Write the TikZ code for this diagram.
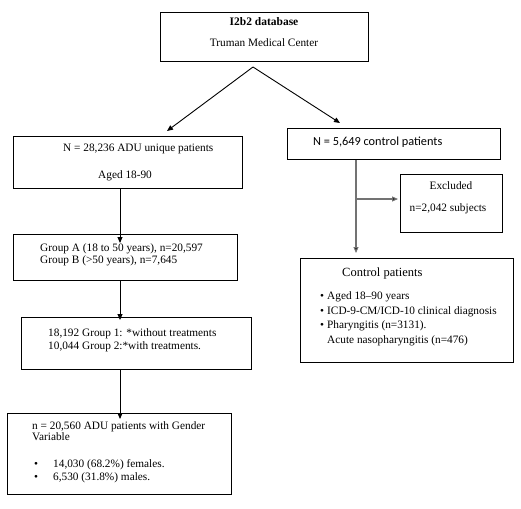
\documentclass[tikz,border=0pt]{standalone}
\usepackage{fontspec}
\setmainfont{Liberation Serif}
\newfontfamily\calib{Carlito}
\usetikzlibrary{arrows.meta}
\begin{document}
\begin{tikzpicture}[x=1pt,y=-1pt,
  box/.style={draw=black,line width=0.9pt,rectangle,inner sep=0pt,anchor=north west},
  txt/.style={anchor=base west,inner sep=0pt,font=\fontsize{11.3}{13}\selectfont},
  ctxt/.style={anchor=base,inner sep=0pt,font=\fontsize{11.3}{13}\selectfont},
  arr/.style={line width=0.9pt,-{Triangle[length=6pt,width=5pt]}},
  garr/.style={line width=1.1pt,draw=black!55,-{Triangle[length=6pt,width=5pt,fill=black]}}]
\useasboundingbox[fill=white] (0,0) rectangle (521,508);
% boxes
\node[box,minimum width=208pt,minimum height=49pt] (top) at (160,12) {};
\node[box,minimum width=229pt,minimum height=52pt] (adu) at (13,136) {};
\node[box,minimum width=213pt,minimum height=31pt] (ctrl) at (287,128) {};
\node[box,minimum width=102pt,minimum height=58pt] (excl) at (400,174) {};
\node[box,minimum width=224pt,minimum height=46pt] (grpa) at (13,234) {};
\node[box,minimum width=230pt,minimum height=52pt] (grp1) at (21,317) {};
\node[box,minimum width=224pt,minimum height=81pt] (gender) at (7,413) {};
\node[box,minimum width=213pt,minimum height=104pt] (cpat) at (300,258) {};
% texts
\node[ctxt,font=\fontsize{11.5}{13}\selectfont\bfseries] (t1) at (264,26) {I2b2 database};
\node[ctxt] (t2) at (264,47) {Truman Medical Center};
\node[txt] (t3) at (63,151) {N = 28,236 ADU unique patients};
\node[txt] (t4) at (98,178) {Aged 18-90};
\node[txt,font=\calib\fontsize{12.3}{14}\selectfont] (t5) at (313,145) {N = 5,649 control patients};
\node[ctxt] (t6) at (451,189) {Excluded};
\node[ctxt] (t7) at (448,211) {n=2,042 subjects};
\node[txt] (t8) at (40,251) {Group A (18 to 50 years), n=20,597};
\node[txt] (t9) at (40,263) {Group B (\textgreater50 years), n=7,645};
\node[txt] (t10) at (48,336) {18,192 Group 1: *without treatments};
\node[txt] (t11) at (48,349) {10,044 Group 2:*with treatments.};
\node[txt,font=\fontsize{12.5}{14}\selectfont] (t12) at (342,276) {Control patients};
\node[txt] (b1) at (320,299) {\textbullet};
\node[txt] (t13) at (327,299) {Aged 18–90 years};
\node[txt] (b2) at (320,314) {\textbullet};
\node[txt] (t14) at (327,314) {ICD-9-CM/ICD-10 clinical diagnosis};
\node[txt] (b3) at (320,328) {\textbullet};
\node[txt] (t15) at (327,328) {Pharyngitis (n=3131).};
\node[txt] (t16) at (327,343) {Acute nasopharyngitis (n=476)};
\node[txt] (t17) at (32,429) {n = 20,560 ADU patients with Gender};
\node[txt] (t18) at (32,440) {Variable};
\node[txt] (b4) at (34,467) {\textbullet};
\node[txt] (t19) at (53,467) {14,030 (68.2\%) females.};
\node[txt] (b5) at (34,480) {\textbullet};
\node[txt] (t20) at (53,480) {6,530 (31.8\%) males.};
% connectors
\coordinate (apex) at (253,67);
\coordinate (ltip) at (167,131);
\coordinate (rtip) at (340,123);
\coordinate (cv) at (356,158);
\coordinate (cbr) at (356,199);
\coordinate (cend) at (356,253);
\coordinate (etip) at (398,199);
\draw[arr] (apex) -- (ltip);
\draw[arr] (apex) -- (rtip);
\draw[arr] (adu.south -| 120,0) -- ([yshift=-9pt]grpa.north -| 120,0);
\draw[arr] (grpa.south -| 120,0) -- ([yshift=-3pt]grp1.north -| 120,0);
\draw[arr] (grp1.south -| 120,0) -- ([yshift=-6pt]gender.north -| 120,0);
\draw[garr] (ctrl.south -| cv) -- (cend);
\draw[garr] (cbr) -- (etip);
\end{tikzpicture}
\end{document}
